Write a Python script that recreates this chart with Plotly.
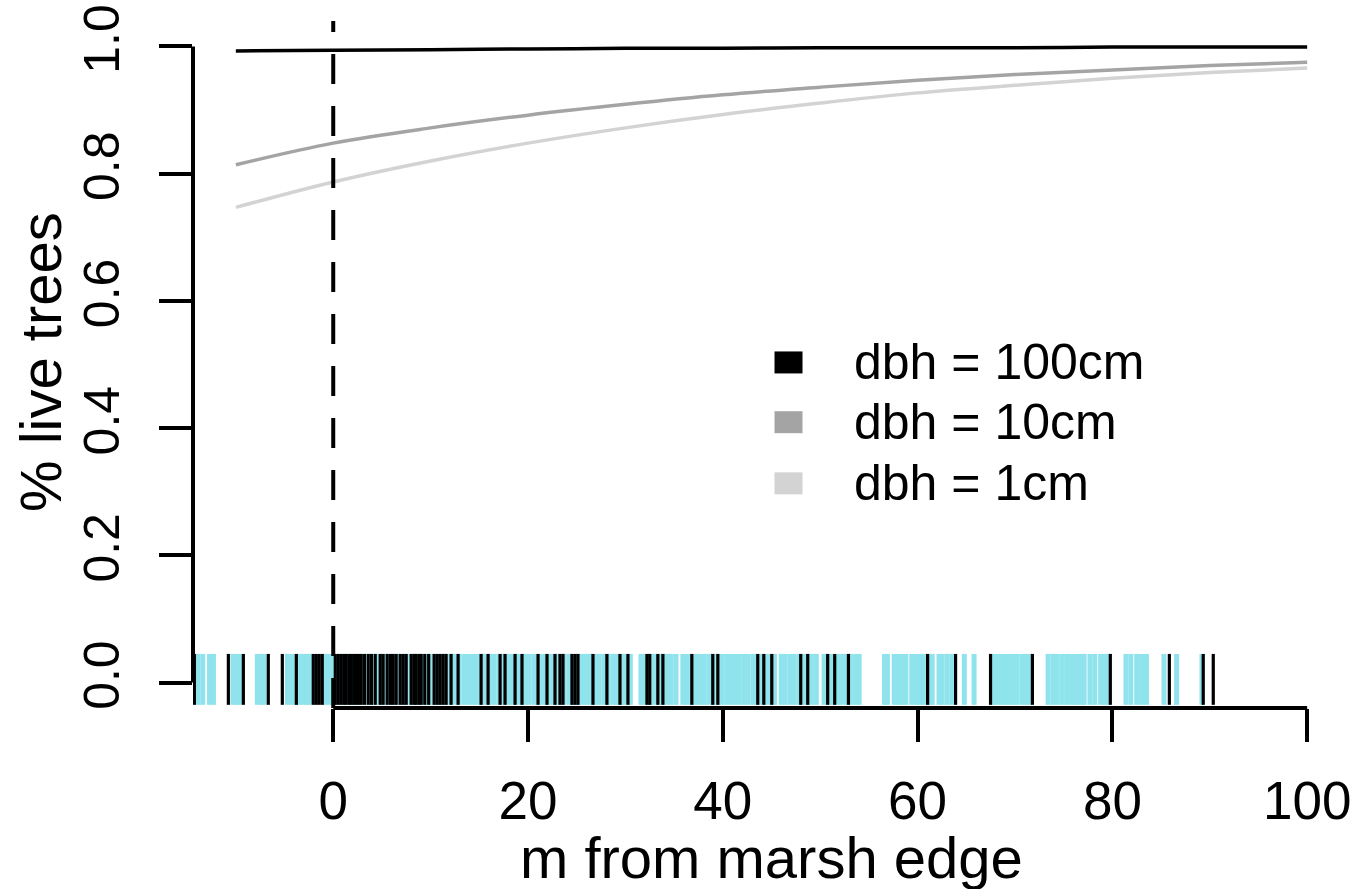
import plotly.graph_objects as go

# ---------------- data ----------------
dist = [-10, 0, 10, 20, 30, 40, 50, 60, 70, 80, 90, 100]
p_dbh100 = [0.993, 0.994, 0.995, 0.996, 0.997, 0.997, 0.998, 0.998, 0.998, 0.999, 0.999, 0.999]
p_dbh10 = [0.814, 0.848, 0.872, 0.892, 0.909, 0.924, 0.936, 0.947, 0.956, 0.963, 0.970, 0.975]
p_dbh1 = [0.747, 0.787, 0.820, 0.848, 0.872, 0.893, 0.911, 0.927, 0.939, 0.950, 0.959, 0.966]

series_names = ["dbh = 100cm", "dbh = 10cm", "dbh = 1cm"]
series_colors = ["#000000", "#a4a4a4", "#d3d3d3"]

# rug: tree positions (m from marsh edge)
rug_cyan = [-13.9, -13.4, -12.7, -12.3, -10.3, -9.9, -9.6, -7.8, -7.4, -7.1,
            -4.7, -4.3, -4.0, -3.5, -3.1, -2.7, -2.4, -0.9, -0.5, -0.1,
            0.3, 0.8, 1.2, 1.7, 2.1, 2.6, 3.0, 3.5, 3.9, 4.4, 4.8, 5.3, 5.7, 6.2, 6.6,
            7.1, 7.5, 8.0, 8.4, 8.9, 9.3, 9.8, 10.2, 10.7, 11.1, 11.6, 12.0, 12.5, 12.9,
            13.4, 13.8, 14.3, 14.7, 15.2, 15.6, 16.1, 16.5, 17.0, 17.4, 17.9, 18.3, 18.8,
            19.2, 19.7, 20.1, 20.6, 21.0, 21.5, 21.9, 22.4, 22.8, 23.3, 23.7, 24.2, 24.6,
            25.1, 25.5, 26.0, 26.4, 26.9, 27.3, 27.8, 28.2, 28.7, 29.1, 29.6, 30.0, 30.5,
            31.6, 32.0, 32.5, 32.9, 33.4, 33.8, 34.3, 34.7, 35.2, 35.9, 36.3, 36.8, 37.2,
            37.7, 38.1, 38.6, 39.0, 39.5, 39.9, 40.4, 40.8, 41.3, 41.7, 42.2, 42.6, 43.1,
            43.5, 44.0, 44.4, 44.9, 45.3, 46.0, 46.4, 46.9, 47.3, 47.8, 48.2, 48.7, 49.1,
            49.6, 50.4, 50.9, 51.3, 51.8, 52.2, 52.7, 53.1, 53.6, 54.0,
            56.6, 56.9, 57.6, 58.0, 58.4, 58.8, 59.4, 59.8, 60.2, 60.6, 61.2, 61.5,
            62.2, 62.5, 63.0, 63.5, 64.8, 65.8, 67.8, 68.2, 68.6, 69.0, 69.4, 69.8,
            70.2, 70.7, 71.1, 71.5, 73.4, 73.9, 74.3, 74.8, 75.3, 75.7, 76.1, 76.5,
            76.9, 77.1, 77.7, 78.2, 78.8, 79.2, 79.6, 81.4, 81.9, 82.5, 83.0, 83.5,
            85.3, 86.6, 89.2]
rug_black = [-14.26, -10.77, -9.23, -6.67, -5.23, -3.79, -2.05, -1.74, -1.44, -1.13,
             0.21, 0.52, 0.82, 1.10, 1.33, 1.62, 1.85, 2.12, 2.36, 2.60, 2.87, 3.20,
             3.59, 3.92, 4.31, 4.82, 5.12, 5.54, 5.88, 6.15, 6.46, 6.87, 7.18, 7.49,
             8.00, 8.30, 8.51, 8.80, 9.03, 9.40, 9.80, 10.36, 10.67, 10.97, 11.28,
             11.59, 12.10, 12.82, 15.18, 15.90, 17.13, 17.64, 18.67, 19.38, 21.03,
             21.95, 22.77, 23.28, 23.59, 24.51, 24.82, 25.13, 26.67, 28.10, 29.44,
             30.26, 32.21, 32.50, 33.33, 33.85, 36.82, 38.97, 39.49, 43.59, 44.21,
             45.03, 48.00, 48.72, 50.77, 51.49, 52.90, 61.03, 63.90, 67.49, 71.79,
             79.79, 85.85, 89.33, 90.36]

x_ticks = [0, 20, 40, 60, 80, 100]
y_ticks = [0.0, 0.2, 0.4, 0.6, 0.8, 1.0]
y_ticktext = ["0.0", "0.2", "0.4", "0.6", "0.8", "1.0"]
marsh_edge = 0

x_title = "m from marsh edge"
y_title = "% live trees"

# ---------------- style ----------------
FONT = "Liberation Sans, Arial, sans-serif"
x_range = [-14.4, 104.4]
y_range = [-0.04, 1.04]
rug_bottom, rug_top = -0.035, 0.045


def rug_xy(vals):
    xs, ys = [], []
    for v in vals:
        xs += [v, v, None]
        ys += [rug_bottom, rug_top, None]
    return xs, ys


fig = go.Figure()

# dashed marsh-edge line
fig.add_shape(type="line", xref="x", yref="paper", x0=marsh_edge, x1=marsh_edge,
              y0=0, y1=1, line=dict(color="black", width=4, dash="30px,22px"))

# rugs
cx, cy = rug_xy(rug_cyan)
fig.add_trace(go.Scatter(x=cx, y=cy, mode="lines", line=dict(color="#8fe3ec", width=5),
                         showlegend=False, hoverinfo="skip"))
bx, by = rug_xy(rug_black)
fig.add_trace(go.Scatter(x=bx, y=by, mode="lines", line=dict(color="#000000", width=3.2),
                         showlegend=False, hoverinfo="skip"))

# curves (light first so black on top)
for name, yv, col in reversed(list(zip(series_names, [p_dbh100, p_dbh10, p_dbh1], series_colors))):
    fig.add_trace(go.Scatter(x=dist, y=yv, mode="lines", name=name,
                             line=dict(color=col, width=3.5, shape="spline"),
                             showlegend=False))

# axis lines spanning tick range (R style)
fig.add_shape(type="line", xref="x", yref="paper", x0=x_ticks[0], x1=x_ticks[-1],
              y0=0, y1=0, line=dict(color="black", width=4))
fig.add_shape(type="line", xref="paper", yref="y", x0=0, x1=0,
              y0=y_ticks[0], y1=y_ticks[-1], line=dict(color="black", width=4))

# manual legend
leg_rows_y = [0.503, 0.416, 0.327]
for name, col, yc in zip(series_names, series_colors, leg_rows_y):
    fig.add_shape(type="rect", xref="paper", yref="paper",
                  x0=0.5026, x1=0.5268, y0=yc - 0.016, y1=yc + 0.016,
                  fillcolor=col, line=dict(width=0))
    fig.add_annotation(xref="paper", yref="paper", x=0.5699, y=yc, text=name,
                       showarrow=False, xanchor="left", yanchor="middle",
                       font=dict(family=FONT, size=50, color="black"))

# axis titles
fig.add_annotation(xref="paper", yref="paper", x=0.5, y=-0.2174, text=x_title,
                   showarrow=False, xanchor="center", yanchor="middle",
                   font=dict(family=FONT, size=58, color="black"))
fig.add_annotation(xref="paper", yref="paper", x=-0.132, y=0.504, text=y_title,
                   showarrow=False, xanchor="center", yanchor="middle", textangle=-90,
                   font=dict(family=FONT, size=58, color="black"))

fig.update_layout(
    width=1355, height=889,
    margin=dict(l=193, r=4, t=18, b=181),
    paper_bgcolor="white", plot_bgcolor="white",
    showlegend=False,
    font=dict(family=FONT, color="black"),
    xaxis=dict(range=x_range, tickvals=x_ticks, ticks="outside", ticklen=33,
               tickwidth=4, tickcolor="black", showgrid=False, zeroline=False,
               showline=False, tickfont=dict(size=53, family=FONT, color="black"),
               ticklabelstandoff=13),
    yaxis=dict(range=y_range, tickvals=y_ticks, ticktext=y_ticktext, tickangle=-90,
               ticks="outside", ticklen=33, tickwidth=4, tickcolor="black",
               showgrid=False, zeroline=False, showline=False,
               tickfont=dict(size=50, family=FONT, color="black"),
               ticklabelstandoff=20),
)

fig.write_html(
    "out.html",
    config={"displayModeBar": False},
    post_script="document.body.style.margin='0';document.body.style.overflow='hidden';",
)
